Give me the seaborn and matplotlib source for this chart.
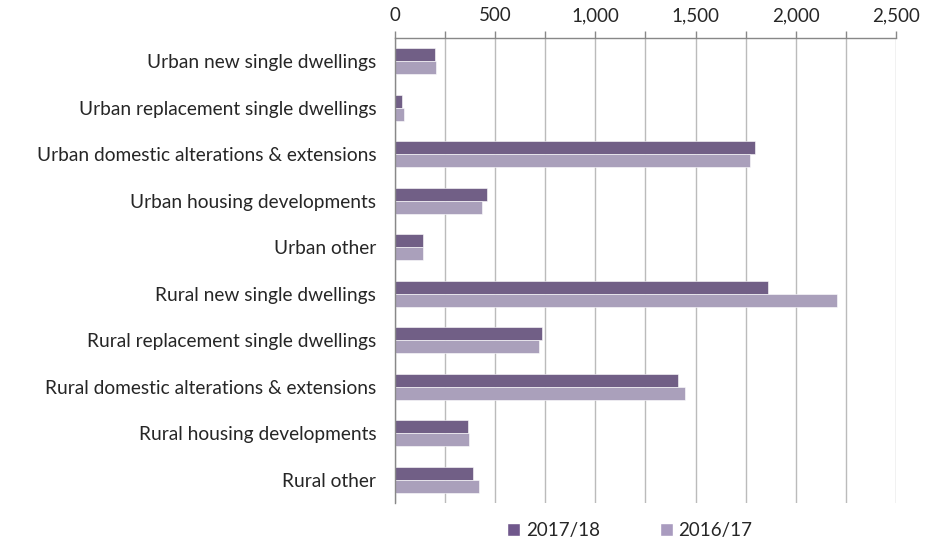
import pandas as pd
import numpy as np
import matplotlib.pyplot as plt
import seaborn as sns
from matplotlib.patches import Patch

categories = [
    'Urban new single dwellings',
    'Urban replacement single dwellings',
    'Urban domestic alterations & extensions',
    'Urban housing developments',
    'Urban other',
    'Rural new single dwellings',
    'Rural replacement single dwellings',
    'Rural domestic alterations & extensions',
    'Rural housing developments',
    'Rural other',
]
values_1718 = [198, 35, 1796, 460, 138, 1861, 732, 1412, 363, 387]
values_1617 = [203, 45, 1771, 435, 142, 2205, 717, 1447, 367, 417]
series = ['2017/18', '2016/17']
colors = ['#70588c', '#a99bbf']

df = pd.DataFrame({
    'category': categories * 2,
    'value': values_1718 + values_1617,
    'year': [series[0]] * len(categories) + [series[1]] * len(categories),
})

sns.set_style('white')
plt.rcParams['font.family'] = ['Lato', 'DejaVu Sans']

fig = plt.figure(figsize=(9.37, 5.44), dpi=100)
ax = fig.add_axes([0.4216, 0.0754, 0.5346, 0.8546])

sns.barplot(data=df, y='category', x='value', hue='year', order=categories,
            hue_order=series, palette=colors, orient='h', width=0.56, gap=0,
            edgecolor='white', linewidth=0.4, legend=False, ax=ax)

ax.set_xlim(0, 2500)
ax.set_ylim(len(categories) - 0.5, -0.5)
ax.xaxis.tick_top()
ax.set_xticks(np.arange(0, 2501, 500))
ax.set_xticks(np.arange(0, 2501, 250), minor=True)
ax.set_xticklabels([f'{v:,}' for v in range(0, 2501, 500)], fontsize=13.5)
ax.tick_params(axis='x', which='both', direction='out', length=5, color='#888888',
               width=1, pad=5, top=True, bottom=False)
ax.grid(axis='x', which='both', color='#bbbbbb', linewidth=1)
ax.set_axisbelow(True)

ax.set_yticks(range(len(categories)))
ax.set_yticklabels(categories, fontsize=13.8)
ax.set_yticks(np.arange(0.5, len(categories) - 0.5, 1), minor=True)
ax.tick_params(axis='y', which='major', length=0, pad=13.5)
ax.tick_params(axis='y', which='minor', length=5, color='#888888', width=1)
ax.set_xlabel('')
ax.set_ylabel('')

for s in ['right', 'bottom']:
    ax.spines[s].set_visible(False)
for s in ['left', 'top']:
    ax.spines[s].set_color('#888888')
    ax.spines[s].set_linewidth(1)

handles = [Patch(facecolor=c, label=l) for c, l in zip(colors, series)]
fig.legend(handles=handles, loc='center', bbox_to_anchor=(0.672, 0.025), ncol=2,
           frameon=False, fontsize=13.5, handlelength=0.7, handleheight=0.7,
           handletextpad=0.3, columnspacing=3.2)

fig.savefig('out.png', dpi=100)
